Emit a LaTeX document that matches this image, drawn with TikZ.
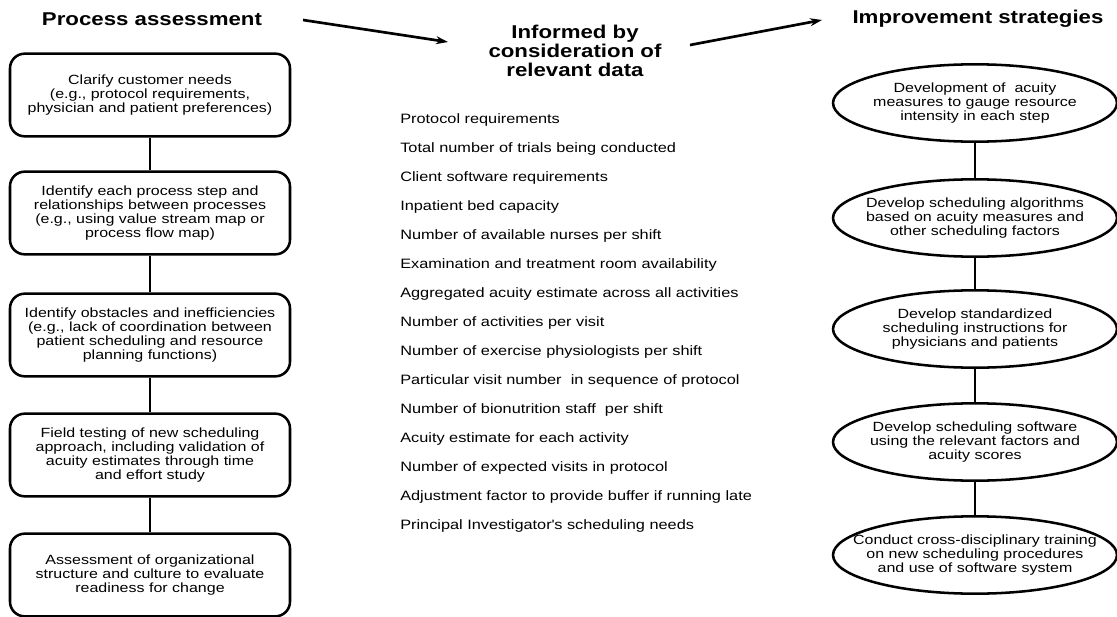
\documentclass[tikz,border=0pt]{standalone}
\usepackage{fontspec}
\setmainfont{Liberation Sans}[FakeStretch=1.2]
\usepackage{tikz}
\usetikzlibrary{arrows.meta, positioning, shapes.geometric}

\begin{document}
\begin{tikzpicture}[
    x=0.75pt, y=-0.75pt,
    head/.style={font=\fontsize{13.9}{14.5}\selectfont\bfseries, align=center},
    box/.style={
        rectangle, draw, line width=1.9pt, rounded corners=11pt,
        minimum width=210pt, minimum height=62pt,
        align=center, font=\fontsize{10}{10.6}\selectfont
    },
    oval/.style={ellipse, draw, line width=1.9pt,
        minimum width=213pt, minimum height=58pt},
    otxt/.style={align=center, font=\fontsize{10}{10.6}\selectfont},
    item/.style={anchor=west, inner sep=0pt, font=\fontsize{10.2}{11}\selectfont},
    arr/.style={-{Stealth[length=9pt, width=6pt]}, line width=2pt},
    link/.style={line width=1.5pt}
]
\useasboundingbox (0,0) rectangle (1117,617);

% --- Titres ---
\node[head] (pa)  at (152,19)  {Process assessment};
\node[head] (inf) at (575,51)  {Informed by\\consideration of\\relevant data};
\node[head] (imp) at (978,19)  {Improvement strategies};

% --- Fleches entre colonnes ---
\coordinate (a1s) at (303,20);
\coordinate (a1e) at (448,42);
\coordinate (a2s) at (690,45);
\coordinate (a2e) at (822,20);
\draw[arr] (a1s) -- (a1e);
\draw[arr] (a2s) -- (a2e);

% --- Colonne gauche ---
\node[box] (s1) at (150,95)
    {Clarify customer needs\\(e.g., protocol requirements,\\physician and patient preferences)};
\node[box] (s2) at (150,213)
    {Identify each process step and\\relationships between processes\\(e.g., using value stream map or\\process flow map)};
\node[box] (s3) at (150,335)
    {Identify obstacles and inefficiencies\\(e.g., lack of coordination between\\patient scheduling and resource\\planning functions)};
\node[box] (s4) at (150,455)
    {Field testing of new scheduling\\approach, including validation of\\acuity estimates through time\\and effort study};
\node[box] (s5) at (150,575)
    {Assessment of organizational\\structure and culture to evaluate\\readiness for change};

\draw[link] (s1) -- (s2);
\draw[link] (s2) -- (s3);
\draw[link] (s3) -- (s4);
\draw[link] (s4) -- (s5);

% --- Donnees ---
\node[item] (d1)  at (400,120) {Protocol requirements};
\node[item] (d2)  at (400,149) {Total number of trials being conducted};
\node[item] (d3)  at (400,178) {Client software requirements};
\node[item] (d4)  at (400,207) {Inpatient bed capacity};
\node[item] (d5)  at (400,236) {Number of available nurses per shift};
\node[item] (d6)  at (400,265) {Examination and treatment room availability};
\node[item] (d7)  at (400,294) {Aggregated acuity estimate across all activities};
\node[item] (d8)  at (400,323) {Number of activities per visit};
\node[item] (d9)  at (400,352) {Number of exercise physiologists per shift};
\node[item] (d10) at (400,381) {Particular visit number\ \ in sequence of protocol};
\node[item] (d11) at (400,410) {Number of bionutrition staff\ \ per shift};
\node[item] (d12) at (400,439) {Acuity estimate for each activity};
\node[item] (d13) at (400,468) {Number of expected visits in protocol};
\node[item] (d14) at (400,497) {Adjustment factor to provide buffer if running late};
\node[item] (d15) at (400,526) {Principal Investigator\textquotesingle s scheduling needs};

% --- Colonne droite ---
\node[oval, label={[otxt]center:{Development of\ \ acuity\\measures to gauge resource\\intensity in each step}}]
    (e1) at (975,103) {};
\node[oval, label={[otxt]center:{Develop scheduling algorithms\\based on acuity measures and\\other scheduling factors}}]
    (e2) at (975,218) {};
\node[oval, label={[otxt]center:{Develop standardized\\scheduling instructions for\\physicians and patients}}]
    (e3) at (975,329) {};
\node[oval, label={[otxt]center:{Develop scheduling software\\using the relevant factors and\\acuity scores}}]
    (e4) at (975,442) {};
\node[oval, label={[otxt]center:{Conduct cross-disciplinary training\\on new scheduling procedures\\and use of software system}}]
    (e5) at (975,555) {};

\draw[link] (e1) -- (e2);
\draw[link] (e2) -- (e3);
\draw[link] (e3) -- (e4);
\draw[link] (e4) -- (e5);

\end{tikzpicture}
\end{document}
